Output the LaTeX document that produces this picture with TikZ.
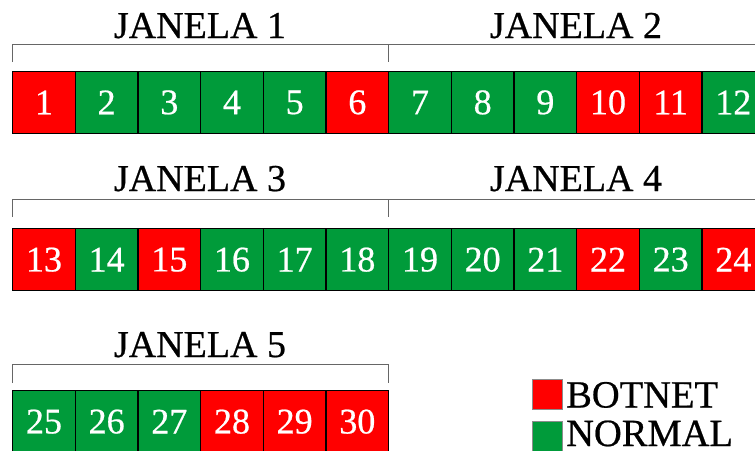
\documentclass[tikz,border=0pt]{standalone}
\usepackage{fontspec}
\setmainfont{Liberation Serif}[FakeBold=0.6]
\definecolor{bred}{RGB}{255,0,0}
\definecolor{bgreen}{RGB}{0,155,58}
\begin{document}
\begin{tikzpicture}[x=1pt,y=-1pt,
  cell/.style={draw=black, line width=1.3pt, minimum width=62.67pt, minimum height=#1,
    inner sep=0pt, text=white, font=\fontsize{36}{36}\selectfont, anchor=north west},
  cell/.default=61.5pt,
  title/.style={anchor=base, font=\fontsize{38}{38}\selectfont},
  brk/.style={draw=black!60, line width=0.8pt},
  legsq/.style={draw=black!45, line width=0.6pt, minimum size=30pt, inner sep=0pt, anchor=north west},
  legtxt/.style={anchor=base west, inner sep=0pt, font=\fontsize{38.5}{38.5}\selectfont}]
\useasboundingbox (0,0) rectangle (755,450);
\clip (0,0) rectangle (755,450);

% row 1
\foreach \n/\c [count=\i from 0] in {1/bred,2/bgreen,3/bgreen,4/bgreen,5/bgreen,6/bred,7/bgreen,8/bgreen,9/bgreen,10/bred,11/bred,12/bgreen}
  \node[cell, fill=\c] (c\n) at (12+62.67*\i,71) {\n};
% row 2
\foreach \n/\c [count=\i from 0] in {13/bred,14/bgreen,15/bred,16/bgreen,17/bgreen,18/bgreen,19/bgreen,20/bgreen,21/bgreen,22/bred,23/bgreen,24/bred}
  \node[cell=62pt, fill=\c] (c\n) at (12+62.67*\i,228) {\n};
% row 3
\foreach \n/\c [count=\i from 0] in {25/bgreen,26/bgreen,27/bgreen,28/bred,29/bred,30/bred}
  \node[cell=62pt, fill=\c] (c\n) at (12+62.67*\i,390) {\n};

% brackets
\draw[brk] (12,62) -- (12,44) -- (764,44);
\draw[brk] (388,44) -- (388,62);
\draw[brk] (12,217) -- (12,199) -- (764,199);
\draw[brk] (388,199) -- (388,217);
\draw[brk] (12,383) -- (12,364) -- (388,364) -- (388,383);

% titles
\node[title] (j1) at (200,38) {JANELA 1};
\node[title] (j2) at (576,38) {JANELA 2};
\node[title] (j3) at (200,191) {JANELA 3};
\node[title] (j4) at (576,191) {JANELA 4};
\node[title] (j5) at (200,357) {JANELA 5};

% legend
\node[legsq, fill=bred] (lb) at (532,379) {};
\node[legsq, fill=bgreen] (lg) at (532,421) {};
\node[legtxt] (tb) at (566,407.5) {BOTNET};
\node[legtxt] (tg) at (566,446) {NORMAL};
\end{tikzpicture}
\end{document}
